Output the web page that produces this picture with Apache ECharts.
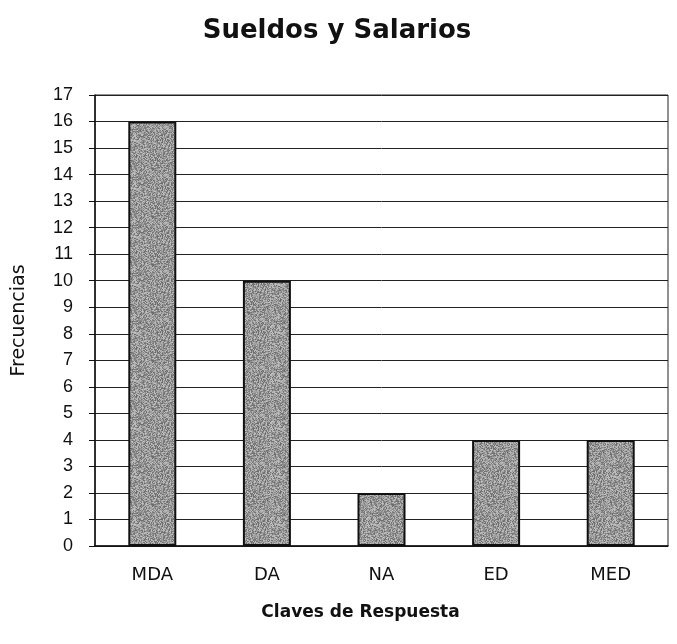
<!DOCTYPE html>
<html>
<head>
<meta charset="utf-8">
<script src="https://cdn.jsdelivr.net/npm/echarts@6/dist/echarts.min.js"></script>
<style>
  html, body { margin: 0; padding: 0; background: #fff; }
  #main { width: 677px; height: 644px; }
</style>
</head>
<body>
<div id="main"></div>
<script>
var categories = ['MDA', 'DA', 'NA', 'ED', 'MED'];
var frecuencias = [16, 10, 2, 4, 4];
var yTicks = [0, 17, 1]; // min, max, interval

var font = '"Liberation Sans", Arial, sans-serif';
var wide = '"DejaVu Sans", sans-serif';

// grainy grey fill like the scanned print
function grainPattern() {
  var c = document.createElement('canvas');
  c.width = 48; c.height = 48;
  var ctx = c.getContext('2d');
  var img = ctx.createImageData(48, 48);
  for (var i = 0; i < 48 * 48; i++) {
    var h = Math.sin(i * 12.9898 + 78.233) * 43758.5453;
    h = h - Math.floor(h);
    var v = Math.round(105 + h * 90);
    img.data[i * 4] = v; img.data[i * 4 + 1] = v; img.data[i * 4 + 2] = v;
    img.data[i * 4 + 3] = 255;
  }
  ctx.putImageData(img, 0, 0);
  return c;
}

var myChart = echarts.init(document.getElementById('main'));

var option = {
  backgroundColor: '#fff',
  title: {
    text: 'Sueldos y Salarios',
    left: 332,
    textAlign: 'center',
    top: 13,
    textStyle: { fontFamily: wide, fontSize: 26, fontWeight: 'bold', color: '#111' }
  },
  grid: {
    left: 95, right: 9, top: 95, bottom: 98,
    outerBoundsMode: 'none',
    show: true, borderColor: '#222', borderWidth: 1
  },
  xAxis: {
    type: 'category',
    data: categories,
    name: 'Claves de Respuesta',
    nameLocation: 'middle',
    nameGap: 58,
    nameTextStyle: { fontFamily: wide, fontSize: 17, fontWeight: 'bold', color: '#111', padding: [0, 42, 0, 0] },
    axisLine: { lineStyle: { color: '#111', width: 1.5 } },
    axisTick: { show: false },
    axisLabel: { fontFamily: wide, fontSize: 18, color: '#111', margin: 20 }
  },
  yAxis: {
    type: 'value',
    min: yTicks[0], max: yTicks[1], interval: yTicks[2],
    name: 'Frecuencias',
    nameLocation: 'middle',
    nameGap: 66,
    nameTextStyle: { fontFamily: wide, fontSize: 19, color: '#111' },
    axisLine: { show: true, lineStyle: { color: '#111', width: 1.5 } },
    axisTick: { show: true, length: 6, lineStyle: { color: '#111' } },
    axisLabel: { fontFamily: font, fontSize: 18, color: '#111', margin: 22 },
    splitLine: { show: true, lineStyle: { color: '#222', width: 1 } }
  },
  series: [{
    type: 'bar',
    data: frecuencias,
    barWidth: 48,
    itemStyle: {
      color: { image: grainPattern(), repeat: 'repeat' },
      borderColor: '#111',
      borderWidth: 2
    }
  }]
};

myChart.setOption(option);
</script>
</body>
</html>
